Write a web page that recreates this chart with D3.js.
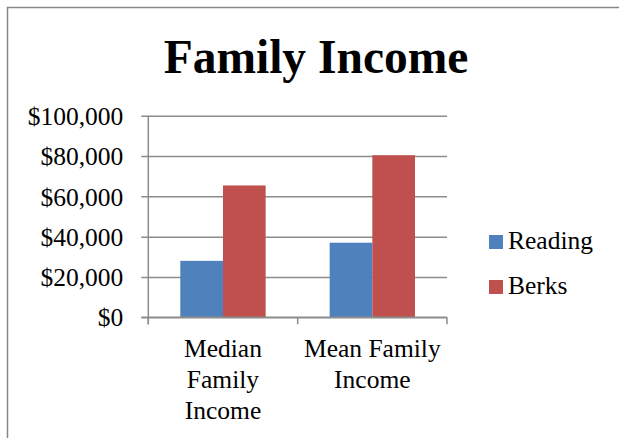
<!DOCTYPE html>
<html>
<head>
<meta charset="utf-8">
<script src="https://cdn.jsdelivr.net/npm/d3@7"></script>
<style>
  body { margin: 0; background: #fff; }
  svg text { font-family: "Liberation Serif", "Times New Roman", serif; fill: #000; }
</style>
</head>
<body>
<div id="chart"></div>
<script>
// --------------------------------------
//  Data
// --------------------------------------

const categories = [["Median", "Family", "Income"], ["Mean Family", "Income"]];
const categoryKeys = ["Median Family Income", "Mean Family Income"];
const series = ["Reading", "Berks"];
const readingValues = [28000, 37000];
const berksValues = [65400, 80400];
const yTicks = [0, 20000, 40000, 60000, 80000, 100000];

const colors = { Reading: "#4F81BD", Berks: "#C0504D" };
const serif = "Liberation Serif, Times New Roman, serif";

// --------------------------------------
//  Canvas
// --------------------------------------

const W = 619, H = 438;
const plot = { left: 148.3, right: 447, top: 115.7, bottom: 317.3 };

const svg = d3.select("#chart")
  .append("svg")
  .attr("width", W)
  .attr("height", H)
  .attr("font-family", serif);

// outer chart border (cut off on the right and bottom)
svg.append("rect")
  .attr("x", 7.5).attr("y", 7.5)
  .attr("width", W + 10).attr("height", H + 10)
  .attr("fill", "none")
  .attr("stroke", "#868686")
  .attr("stroke-width", 1.5);

// --------------------------------------
//  Scales
// --------------------------------------

const x0 = d3.scaleBand()
  .domain(categoryKeys)
  .range([plot.left, plot.right])
  .padding(0);

const x1 = d3.scaleBand()
  .domain(series)
  .range([0, x0.bandwidth()])
  .paddingInner(0)
  .paddingOuter(0.75);

const y = d3.scaleLinear()
  .domain([0, 100000])
  .range([plot.bottom, plot.top]);

const fmt = d => "$" + d3.format(",")(d);

// --------------------------------------
//  Grid + axes
// --------------------------------------

const yAxis = d3.axisLeft(y)
  .tickValues(yTicks)
  .tickFormat(fmt)
  .tickSize(-(plot.right - plot.left))
  .tickPadding(0);

const gy = svg.append("g")
  .attr("transform", `translate(${plot.left},0)`)
  .call(yAxis)
  .attr("font-family", serif)
  .attr("font-size", 25.5);

gy.select(".domain").remove();
gy.selectAll(".tick line")
  .attr("x1", -7)
  .attr("stroke", "#8c8c8c")
  .attr("stroke-width", 1.5);
gy.selectAll(".tick text")
  .attr("x", -25)
  .attr("dy", "0.34em")
  .attr("fill", "#000");

// vertical axis line
svg.append("line")
  .attr("x1", plot.left).attr("x2", plot.left)
  .attr("y1", plot.top).attr("y2", plot.bottom + 7)
  .attr("stroke", "#8c8c8c")
  .attr("stroke-width", 1.5);

// --------------------------------------
//  Bars
// --------------------------------------

const rows = categoryKeys.map((k, i) => ({
  key: k,
  values: [
    { name: "Reading", value: readingValues[i] },
    { name: "Berks", value: berksValues[i] }
  ]
}));

svg.append("g")
  .selectAll("g")
  .data(rows)
  .join("g")
  .attr("transform", d => `translate(${x0(d.key)},0)`)
  .selectAll("rect")
  .data(d => d.values)
  .join("rect")
  .attr("x", d => x1(d.name))
  .attr("y", d => y(d.value))
  .attr("width", x1.bandwidth())
  .attr("height", d => y(0) - y(d.value))
  .attr("fill", d => colors[d.name]);

// x axis line + ticks (drawn over bars)
svg.append("line")
  .attr("x1", plot.left - 7).attr("x2", plot.right)
  .attr("y1", plot.bottom).attr("y2", plot.bottom)
  .attr("stroke", "#8c8c8c")
  .attr("stroke-width", 1.5);

const xTickPos = [plot.left, ...categoryKeys.map(k => x0(k) + x0.bandwidth())];
svg.append("g")
  .selectAll("line")
  .data(xTickPos)
  .join("line")
  .attr("x1", d => d).attr("x2", d => d)
  .attr("y1", plot.bottom).attr("y2", plot.bottom + 7)
  .attr("stroke", "#8c8c8c")
  .attr("stroke-width", 1.5);

// category labels
svg.append("g")
  .selectAll("text")
  .data(categoryKeys)
  .join("text")
  .attr("text-anchor", "middle")
  .attr("font-size", 25.5)
  .each(function(d, i) {
    const cx = x0(d) + x0.bandwidth() / 2;
    d3.select(this).selectAll("tspan")
      .data(categories[i])
      .join("tspan")
      .attr("x", cx)
      .attr("y", (t, j) => 357 + j * 31)
      .text(t => t);
  });

// --------------------------------------
//  Title
// --------------------------------------

svg.append("text")
  .attr("x", 316)
  .attr("y", 73)
  .attr("text-anchor", "middle")
  .attr("font-size", 47.5)
  .attr("font-weight", "bold")
  .text("Family Income");

// --------------------------------------
//  Legend
// --------------------------------------

const legend = svg.append("g")
  .selectAll("g")
  .data(series)
  .join("g")
  .attr("transform", (d, i) => `translate(489,${235 + i * 45})`);

legend.append("rect")
  .attr("width", 14)
  .attr("height", 14)
  .attr("fill", d => colors[d]);

legend.append("text")
  .attr("x", 19)
  .attr("y", 14)
  .attr("font-size", 25.5)
  .text(d => d);
</script>
</body>
</html>
